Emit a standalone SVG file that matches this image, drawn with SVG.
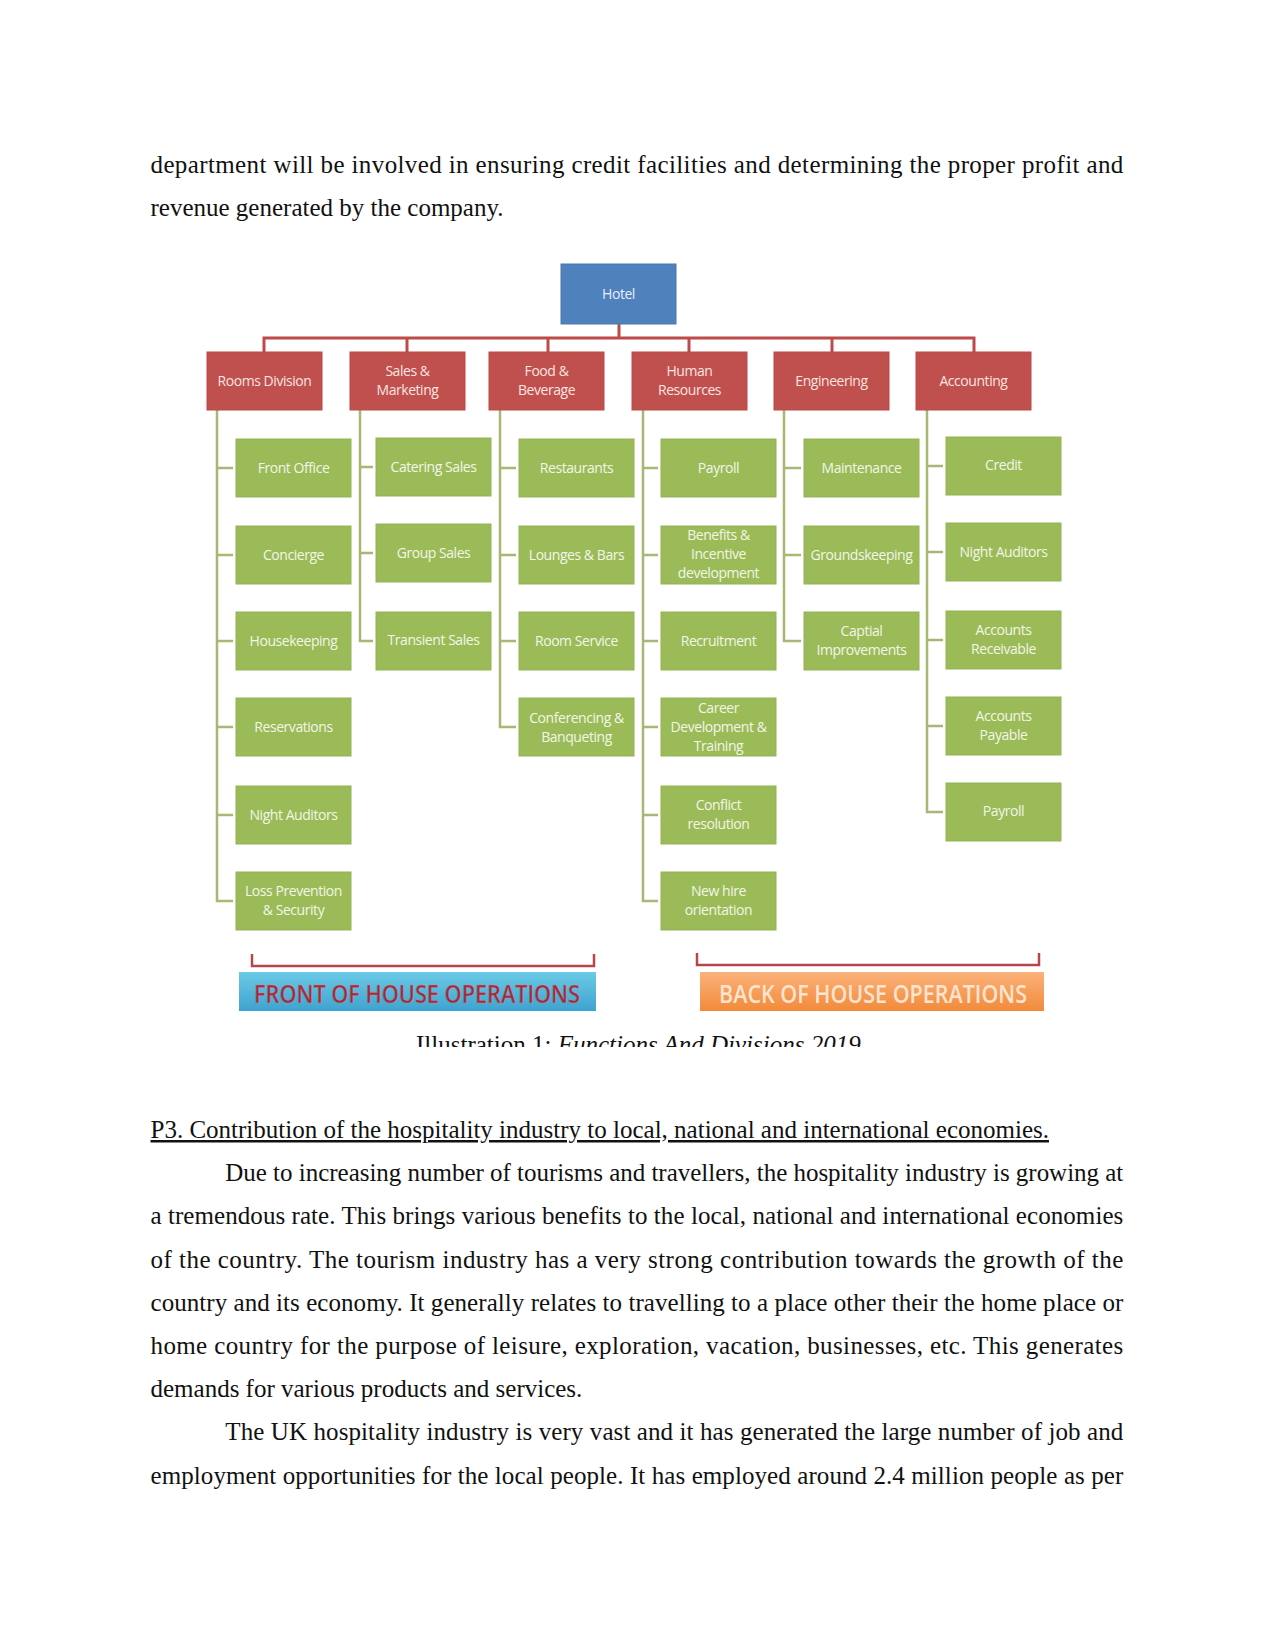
<svg xmlns="http://www.w3.org/2000/svg" width="1275" height="1651" viewBox="0 0 1275 1651">
<defs>
<style>
.body{font-family:"Liberation Serif","Times New Roman",serif;font-size:25px;fill:#111}
.hotel{fill:#4f81bd;stroke:#4a78b0;stroke-width:1}
.dept{fill:#c0504d;stroke:#b84a47;stroke-width:1}
.sub{fill:#9bbb59;stroke:#93b354;stroke-width:1}
.lbl{font-family:"Open Sans","Noto Sans",sans-serif;font-size:14px;text-anchor:middle;letter-spacing:-0.45px}
.dl{fill:#f6e4e3}
.sl{fill:#f2f6e6}
.hl{fill:#e6eef8}
.red{fill:none;stroke:#be4b4a;stroke-width:3}
.grn{fill:none;stroke:#a6b873;stroke-width:2.5}
.brk{fill:none;stroke:#b6464c;stroke-width:2.5}
.ops{font-family:"Open Sans","Noto Sans",sans-serif;font-size:25px;font-weight:600;text-anchor:start}
</style>
<linearGradient id="gBlue" x1="0" y1="0" x2="0" y2="1">
<stop offset="0" stop-color="#6ccae6"/>
<stop offset="1" stop-color="#3ea3cf"/>
</linearGradient>
<linearGradient id="gOrange" x1="0" y1="0" x2="0" y2="1">
<stop offset="0" stop-color="#fbb27a"/>
<stop offset="1" stop-color="#f28a3a"/>
</linearGradient>
<clipPath id="capClip"><rect x="0" y="1000" width="1275" height="47"/></clipPath>
</defs>
<rect width="1275" height="1651" fill="#fff"/>

<g id="text-top" class="body">
<text x="150.5" y="172.5" textLength="972.8" lengthAdjust="spacing">department will be involved in ensuring credit facilities and determining the proper profit and</text>
<text x="150.5" y="215.7">revenue generated by the company.</text>
</g>

<g id="connectors">
<path class="red" d="M619,324 V338 M264,352 V338 H974 V352 M407,338 V352 M548,338 V352 M689,338 V352 M832,338 V352"/>
<path class="grn" d="M217,410 V901 H233 M217,468 H233 M217,555 H233 M217,641 H233 M217,727 H233 M217,815 H233"/>
<path class="grn" d="M360,410 V641 H373 M360,467 H373 M360,553 H373"/>
<path class="grn" d="M500,410 V727 H516 M500,468 H516 M500,555 H516 M500,641 H516"/>
<path class="grn" d="M643,410 V901 H658 M643,468 H658 M643,555 H658 M643,641 H658 M643,727 H658 M643,815 H658"/>
<path class="grn" d="M784,410 V641 H801 M784,468 H801 M784,555 H801"/>
<path class="grn" d="M927,410 V812 H943 M927,466 H943 M927,552 H943 M927,640 H943 M927,726 H943"/>
</g>

<g id="hotel"><rect class="hotel" x="561" y="264" width="115" height="60"/><text class="lbl hl" x="618.5" y="299">Hotel</text></g>

<g id="rooms-division"><rect class="dept" x="207" y="352" width="115" height="58"/><text class="lbl dl" x="264.5" y="386">Rooms Division</text></g>
<g id="sales-marketing"><rect class="dept" x="350" y="352" width="115" height="58"/><text class="lbl dl" x="407.5" y="376">Sales &amp;</text><text class="lbl dl" x="407.5" y="395">Marketing</text></g>
<g id="food-beverage"><rect class="dept" x="489" y="352" width="115" height="58"/><text class="lbl dl" x="546.5" y="376">Food &amp;</text><text class="lbl dl" x="546.5" y="395">Beverage</text></g>
<g id="human-resources"><rect class="dept" x="632" y="352" width="115" height="58"/><text class="lbl dl" x="689.5" y="376">Human</text><text class="lbl dl" x="689.5" y="395">Resources</text></g>
<g id="engineering"><rect class="dept" x="774" y="352" width="115" height="58"/><text class="lbl dl" x="831.5" y="386">Engineering</text></g>
<g id="accounting"><rect class="dept" x="916" y="352" width="115" height="58"/><text class="lbl dl" x="973.5" y="386">Accounting</text></g>

<g id="front-office"><rect class="sub" x="236" y="439" width="115" height="58"/><text class="lbl sl" x="293.5" y="473">Front Office</text></g>
<g id="concierge"><rect class="sub" x="236" y="526" width="115" height="58"/><text class="lbl sl" x="293.5" y="560">Concierge</text></g>
<g id="housekeeping"><rect class="sub" x="236" y="612" width="115" height="58"/><text class="lbl sl" x="293.5" y="646">Housekeeping</text></g>
<g id="reservations"><rect class="sub" x="236" y="698" width="115" height="58"/><text class="lbl sl" x="293.5" y="732">Reservations</text></g>
<g id="night-auditors-rooms"><rect class="sub" x="236" y="786" width="115" height="58"/><text class="lbl sl" x="293.5" y="820">Night Auditors</text></g>
<g id="loss-prevention"><rect class="sub" x="236" y="872" width="115" height="58"/><text class="lbl sl" x="293.5" y="896">Loss Prevention</text><text class="lbl sl" x="293.5" y="915">&amp; Security</text></g>

<g id="catering-sales"><rect class="sub" x="376" y="438" width="115" height="58"/><text class="lbl sl" x="433.5" y="472">Catering Sales</text></g>
<g id="group-sales"><rect class="sub" x="376" y="524" width="115" height="58"/><text class="lbl sl" x="433.5" y="558">Group Sales</text></g>
<g id="transient-sales"><rect class="sub" x="376" y="612" width="115" height="58"/><text class="lbl sl" x="433.5" y="645">Transient Sales</text></g>

<g id="restaurants"><rect class="sub" x="519" y="439" width="115" height="58"/><text class="lbl sl" x="576.5" y="473">Restaurants</text></g>
<g id="lounges-bars"><rect class="sub" x="519" y="526" width="115" height="58"/><text class="lbl sl" x="576.5" y="560">Lounges &amp; Bars</text></g>
<g id="room-service"><rect class="sub" x="519" y="612" width="115" height="58"/><text class="lbl sl" x="576.5" y="646">Room Service</text></g>
<g id="conferencing-banqueting"><rect class="sub" x="519" y="698" width="115" height="58"/><text class="lbl sl" x="576.5" y="723">Conferencing &amp;</text><text class="lbl sl" x="576.5" y="742">Banqueting</text></g>

<g id="payroll-hr"><rect class="sub" x="661" y="439" width="115" height="58"/><text class="lbl sl" x="718.5" y="473">Payroll</text></g>
<g id="benefits"><rect class="sub" x="661" y="526" width="115" height="58"/><text class="lbl sl" x="718.5" y="540">Benefits &amp;</text><text class="lbl sl" x="718.5" y="559">Incentive</text><text class="lbl sl" x="718.5" y="578">development</text></g>
<g id="recruitment"><rect class="sub" x="661" y="612" width="115" height="58"/><text class="lbl sl" x="718.5" y="646">Recruitment</text></g>
<g id="career-development"><rect class="sub" x="661" y="698" width="115" height="58"/><text class="lbl sl" x="718.5" y="713">Career</text><text class="lbl sl" x="718.5" y="732">Development  &amp;</text><text class="lbl sl" x="718.5" y="751">Training</text></g>
<g id="conflict-resolution"><rect class="sub" x="661" y="786" width="115" height="58"/><text class="lbl sl" x="718.5" y="810">Conflict</text><text class="lbl sl" x="718.5" y="829">resolution</text></g>
<g id="new-hire"><rect class="sub" x="661" y="872" width="115" height="58"/><text class="lbl sl" x="718.5" y="896">New hire</text><text class="lbl sl" x="718.5" y="915">orientation</text></g>

<g id="maintenance"><rect class="sub" x="804" y="439" width="115" height="58"/><text class="lbl sl" x="861.5" y="473">Maintenance</text></g>
<g id="groundskeeping"><rect class="sub" x="804" y="526" width="115" height="58"/><text class="lbl sl" x="861.5" y="560">Groundskeeping</text></g>
<g id="capital-improvements"><rect class="sub" x="804" y="612" width="115" height="58"/><text class="lbl sl" x="861.5" y="636">Captial</text><text class="lbl sl" x="861.5" y="655">Improvements</text></g>

<g id="credit"><rect class="sub" x="946" y="437" width="115" height="58"/><text class="lbl sl" x="1003.5" y="470">Credit</text></g>
<g id="night-auditors-acc"><rect class="sub" x="946" y="523" width="115" height="58"/><text class="lbl sl" x="1003.5" y="557">Night Auditors</text></g>
<g id="accounts-receivable"><rect class="sub" x="946" y="611" width="115" height="58"/><text class="lbl sl" x="1003.5" y="635">Accounts</text><text class="lbl sl" x="1003.5" y="654">Receivable</text></g>
<g id="accounts-payable"><rect class="sub" x="946" y="697" width="115" height="58"/><text class="lbl sl" x="1003.5" y="721">Accounts</text><text class="lbl sl" x="1003.5" y="740">Payable</text></g>
<g id="payroll-acc"><rect class="sub" x="946" y="783" width="115" height="58"/><text class="lbl sl" x="1003.5" y="816">Payroll</text></g>

<g id="front-of-house">
<path class="brk" d="M252,954 V966 H594 V954"/>
<rect x="239" y="972" width="357" height="39" fill="url(#gBlue)"/>
<text class="ops" x="254" y="1003" textLength="326" lengthAdjust="spacingAndGlyphs" fill="#9e2a3c" stroke="#c97f8a" stroke-width="0.4">FRONT OF HOUSE OPERATIONS</text>
</g>
<g id="back-of-house">
<path class="brk" d="M697,953 V965 H1039 V953"/>
<rect x="700" y="972" width="344" height="39" fill="url(#gOrange)"/>
<text class="ops" x="719" y="1003" textLength="308" lengthAdjust="spacingAndGlyphs" fill="#fde4d0">BACK OF HOUSE OPERATIONS</text>
</g>

<g id="caption" clip-path="url(#capClip)">
<text class="body" x="416" y="1053">Illustration 1: <tspan font-style="italic">Functions And Divisions 2019</tspan></text>
</g>

<g id="text-bottom" class="body">
<text x="150.5" y="1138" text-decoration="underline">P3. Contribution of the hospitality industry to local, national and international economies.</text>
<text x="225.3" y="1181.2" textLength="898" lengthAdjust="spacing">Due to increasing number of tourisms and travellers, the hospitality industry is growing at</text>
<text x="150.5" y="1224.4" textLength="972.8" lengthAdjust="spacing">a tremendous rate. This brings various benefits to the local, national and international economies</text>
<text x="150.5" y="1267.6" textLength="972.8" lengthAdjust="spacing">of the country. The tourism industry has a very strong contribution towards the growth of the</text>
<text x="150.5" y="1310.8" textLength="972.8" lengthAdjust="spacing">country and its economy. It generally relates to travelling to a place other their the home place or</text>
<text x="150.5" y="1354" textLength="972.8" lengthAdjust="spacing">home country for the purpose of leisure, exploration, vacation, businesses, etc. This generates</text>
<text x="150.5" y="1397.2">demands for various products and services.</text>
<text x="225.3" y="1440.4" textLength="898" lengthAdjust="spacing">The UK hospitality industry is very vast and it has generated the large number of job and</text>
<text x="150.5" y="1483.6" textLength="972.8" lengthAdjust="spacing">employment opportunities for the local people. It has employed around 2.4 million people as per</text>
</g>
</svg>
